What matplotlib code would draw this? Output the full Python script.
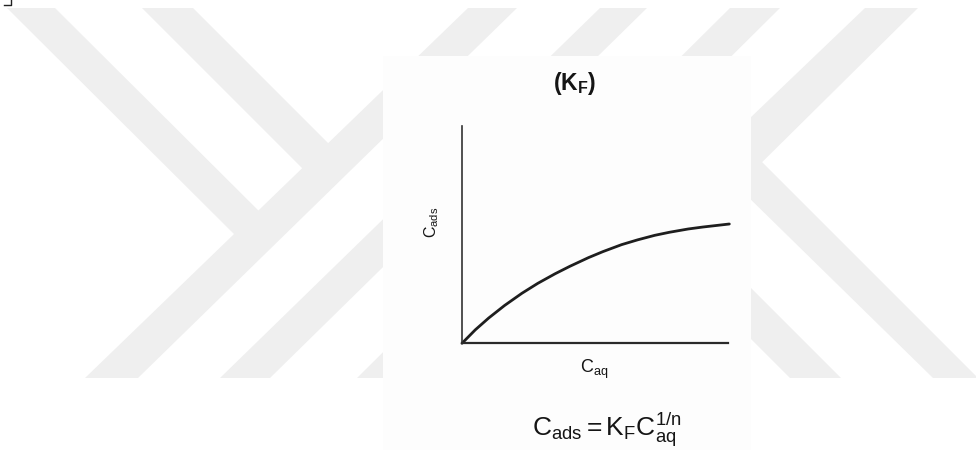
import matplotlib
matplotlib.use('Agg')
import matplotlib.pyplot as plt
from matplotlib.patches import Polygon, Rectangle

plt.rcParams['mathtext.fontset'] = 'custom'
plt.rcParams['mathtext.rm'] = 'Liberation Sans'
plt.rcParams['mathtext.it'] = 'Liberation Sans:italic'
plt.rcParams['mathtext.bf'] = 'Liberation Sans:bold'

# Freundlich isotherm, values (arbitrary units, 0-100 box)
caq = [0, 5, 10, 16, 22.5, 28.5, 35, 40.5, 47.5, 53, 60, 66, 72.5, 78, 85, 90.5, 100.5]
cads = [0, 6.2, 11.6, 17.4, 23.0, 27.6, 32.0, 35.4, 39.4, 42.2, 45.4, 47.6, 49.7, 51.1,
        52.6, 53.5, 54.9]

title_txt = r'$\mathbf{(K_F)}$'
xlabel_txt = r'$\mathrm{C_{aq}}$'
ylabel_txt = r'$\mathrm{C_{ads}}$'
equation_txt = r'$\mathrm{C_{ads} = K_F C_{aq}^{1/n}}$'

W, H = 976, 450

# background watermark stripes (pixel coords, y down)
WATERMARK = [
    [(85, 378), (138, 378), (517, 8), (468, 8)],
    [(220, 378), (270, 378), (647, 8), (600, 8)],
    [(357, 378), (407, 378), (780, 8), (730, 8)],
    [(7, 8), (55, 8), (280, 232), (245, 245)],
    [(142, 8), (193, 8), (345, 160), (312, 178)],
    [(865, 8), (918, 8), (738, 186), (679, 186)],
    [(740, 140), (762, 162), (978, 378), (933, 378), (740, 189)],
    [(740, 277), (841, 378), (790, 378), (740, 328)],
]

fig = plt.figure(figsize=(W / 100, H / 100), dpi=100)
bg = fig.add_axes([0, 0, 1, 1])
bg.set_xlim(0, W)
bg.set_ylim(H, 0)
bg.axis('off')

for pts in WATERMARK:
    bg.add_patch(Polygon(pts, closed=True, fc='#efefef', ec='none'))
bg.add_patch(Rectangle((383, 56), 368, 394, fc='#fdfdfd', ec='none'))
bg.plot([4, 11, 11], [5, 5, 0], color='#222222', lw=1)

# the isotherm plot itself
ax = fig.add_axes([462 / W, 1 - 343.3 / H, (728 - 462) / W, (343.3 - 126) / H])
ax.patch.set_alpha(0)
ax.plot(caq, cads, color='#1e1e1e', lw=2.0, solid_capstyle='round',
        solid_joinstyle='round', clip_on=False)
ax.set_xlim(0, 100)
ax.set_ylim(0, 100)
ax.set_xticks([])
ax.set_yticks([])
ax.spines['top'].set_visible(False)
ax.spines['right'].set_visible(False)
ax.spines['left'].set_linewidth(1.2)
ax.spines['left'].set_color('#333333')
ax.spines['bottom'].set_linewidth(1.6)
ax.spines['bottom'].set_color('#2a2a2a')

bg.text(575, 90, title_txt, fontsize=16.5, ha='center', va='baseline', color='#151515')
bg.text(594.5, 373, xlabel_txt, fontsize=13, ha='center', va='baseline', color='#151515')
bg.text(431.5, 222.5, ylabel_txt, fontsize=11.5, rotation=90, ha='center', va='center',
        color='#151515')
bg.text(607, 436, equation_txt, fontsize=19, ha='center', va='baseline', color='#151515')

fig.savefig('out.png', dpi=100, facecolor='white')
